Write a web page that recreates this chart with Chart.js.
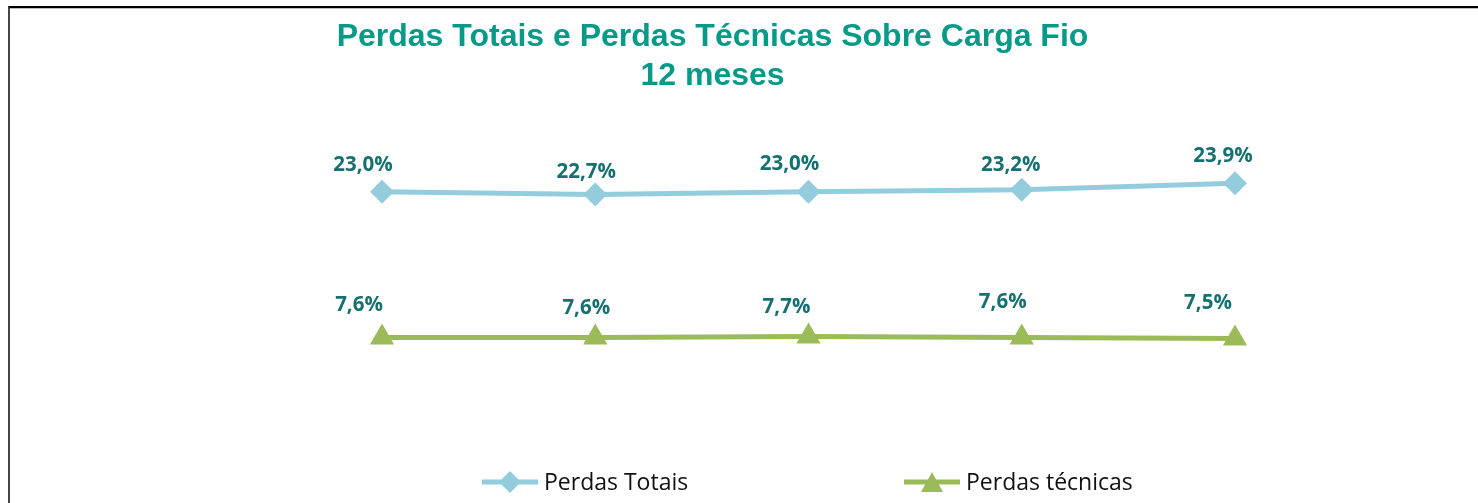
<!DOCTYPE html>
<html lang="pt-BR">
<head>
<meta charset="utf-8">
<title>Perdas Totais e Perdas Técnicas Sobre Carga Fio</title>
<script src="https://cdn.jsdelivr.net/npm/chart.js@4/dist/chart.umd.min.js"></script>
<style>
    html, body { margin: 0; padding: 0; background: #fff; }
    #wrap { position: relative; width: 1478px; height: 503px; overflow: hidden; }
    #frame {
        position: absolute; left: 8px; top: 6px; right: -4px; bottom: -4px;
        border-top: 2px solid #000; border-left: 2px solid #444;
        box-shadow: inset 0 1px 0 #bbb;
    }
    #chartCanvas { position: absolute; left: 0; top: 0; }
    .title {
        position: absolute; left: 0; width: 1425px; text-align: center;
        font-family: "Liberation Sans", Arial, sans-serif; font-weight: bold;
        font-size: 32px; line-height: 39px; color: #079a89;
    }
    .legend-icon { position: absolute; top: 469px; }
    .legend-text {
        position: absolute; top: 466px; line-height: 30px;
        font-family: "Open Sans", sans-serif; font-size: 23px; color: #111;
        white-space: nowrap;
    }
</style>
</head>
<body>
<div id="wrap">
    <div id="frame"></div>
    <canvas id="chartCanvas" width="1478" height="503"></canvas>
    <div class="title" style="top:16px">Perdas Totais e Perdas Técnicas Sobre Carga Fio</div>
    <div class="title" style="top:55px">12 meses</div>

    <svg class="legend-icon" style="left:482px" width="56" height="26">
        <line x1="0" y1="13" x2="56" y2="13" stroke="#93cddd" stroke-width="5"/>
        <polygon points="28,2 39,13 28,24 17,13" fill="#93cddd"/>
    </svg>
    <div class="legend-text" style="left:544px">Perdas Totais</div>

    <svg class="legend-icon" style="left:904px" width="56" height="26">
        <line x1="0" y1="13" x2="56" y2="13" stroke="#9bbb59" stroke-width="5"/>
        <polygon points="28,3 39,23 17,23" fill="#9bbb59"/>
    </svg>
    <div class="legend-text" style="left:966px">Perdas técnicas</div>
</div>

<script>
    // Data (12-month rolling, % of carga fio)
    const periodos = ['P1', 'P2', 'P3', 'P4', 'P5'];
    const perdasTotais = [23.0, 22.7, 23.0, 23.2, 23.9];
    const perdasTecnicas = [7.6, 7.6, 7.7, 7.6, 7.5];

    // Label nudges (text centre relative to the point), per series
    const nudgeTotais = [[-19, -27], [-9, -22], [-19, -28], [-11, -25], [-12, -27]];
    const nudgeTecnicas = [[-23, -32], [-9, -29], [-22, -29], [-19, -35], [-27, -35]];

    const LABEL_COLOR = '#15716f';

    function fmt(v) {
        return v.toFixed(1).replace('.', ',') + '%';
    }

    // Draws the value labels above each point
    const valueLabels = {
        id: 'valueLabels',
        afterDatasetsDraw(chart) {
            const ctx = chart.ctx;
            ctx.save();
            ctx.font = 'bold 20.5px "Open Sans", sans-serif';
            ctx.fillStyle = LABEL_COLOR;
            ctx.textAlign = 'center';
            ctx.textBaseline = 'middle';
            chart.data.datasets.forEach((ds, di) => {
                const meta = chart.getDatasetMeta(di);
                const nudges = di === 0 ? nudgeTotais : nudgeTecnicas;
                meta.data.forEach((pt, i) => {
                    const n = nudges[i];
                    ctx.fillText(fmt(ds.data[i]), pt.x + n[0], pt.y + n[1]);
                });
            });
            ctx.restore();
        }
    };

    const ctx = document.getElementById('chartCanvas').getContext('2d');
    new Chart(ctx, {
        type: 'line',
        data: {
            labels: periodos,
            datasets: [
                {
                    label: 'Perdas Totais',
                    data: perdasTotais,
                    borderColor: '#93cddd',
                    backgroundColor: '#93cddd',
                    borderWidth: 5,
                    tension: 0,
                    pointStyle: 'rectRot',
                    pointRadius: 12,
                    pointBorderWidth: 0,
                    pointBackgroundColor: '#93cddd'
                },
                {
                    label: 'Perdas técnicas',
                    data: perdasTecnicas,
                    borderColor: '#9bbb59',
                    backgroundColor: '#9bbb59',
                    borderWidth: 5,
                    tension: 0,
                    pointStyle: 'triangle',
                    pointRadius: 14,
                    pointBorderWidth: 0,
                    pointBackgroundColor: '#9bbb59'
                }
            ]
        },
        options: {
            responsive: false,
            animation: false,
            layout: {
                padding: { top: 125.4, bottom: 93.6, left: 275.4, right: 136.4 }
            },
            scales: {
                x: { display: false, offset: true },
                y: { display: false, min: 0, max: 30 }
            },
            plugins: {
                legend: { display: false },
                tooltip: { enabled: false },
                title: { display: false }
            },
            datasets: { line: { clip: false } }
        },
        plugins: [valueLabels]
    });
</script>
</body>
</html>
